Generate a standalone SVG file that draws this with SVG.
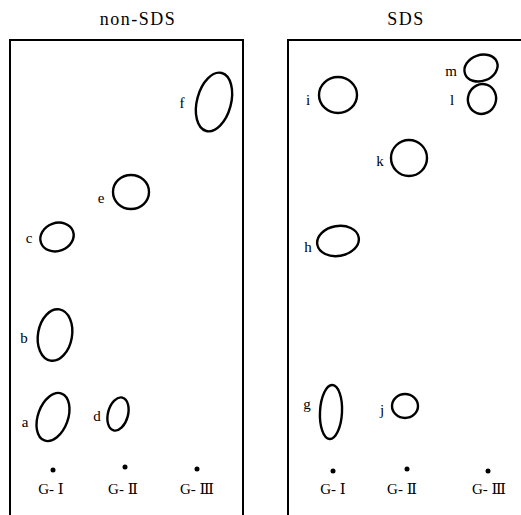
<svg xmlns="http://www.w3.org/2000/svg" width="521" height="515" viewBox="0 0 521 515">
<style>
.frame{fill:none;stroke:#000;stroke-width:2}
.spot{fill:none;stroke:#000;stroke-width:2.4}
.lbl{font-family:"Liberation Serif",serif;font-size:15px;fill:#000;text-anchor:middle}
.title{font-family:"Liberation Serif",serif;font-size:18px;fill:#000;text-anchor:middle;letter-spacing:1.5px}
.lane{font-family:"Liberation Serif","DejaVu Serif","Noto Sans CJK JP",serif;font-size:15px;fill:#000;text-anchor:middle}
.dot{fill:#000}
</style>
<rect width="521" height="515" fill="#fff"/>
<g id="panel-nonSDS">
<text class="title" x="138" y="25">non-SDS</text>
<path class="frame" d="M10,515 V40 H243 V515"/>
</g>
<g id="panel-SDS">
<text class="title" x="406" y="25">SDS</text>
<path class="frame" d="M288,515 V40 H530"/>
</g>
<g id="spot-a"><ellipse class="spot" cx="53" cy="417" rx="15" ry="25" transform="rotate(20 53 417)"/><text class="lbl" x="25" y="427">a</text></g>
<g id="spot-b"><ellipse class="spot" cx="55" cy="335" rx="17" ry="26" transform="rotate(10 55 335)"/><text class="lbl" x="24" y="343">b</text></g>
<g id="spot-c"><ellipse class="spot" cx="57" cy="237" rx="17" ry="14" transform="rotate(-20 57 237)"/><text class="lbl" x="29" y="243">c</text></g>
<g id="spot-d"><ellipse class="spot" cx="118" cy="414" rx="10" ry="17" transform="rotate(15 118 414)"/><text class="lbl" x="97" y="421">d</text></g>
<g id="spot-e"><ellipse class="spot" cx="131" cy="192" rx="18" ry="17"/><text class="lbl" x="101" y="203">e</text></g>
<g id="spot-f"><ellipse class="spot" cx="214" cy="102" rx="17" ry="30" transform="rotate(15 214 102)"/><text class="lbl" x="182" y="108">f</text></g>
<g id="spot-g"><ellipse class="spot" cx="331" cy="412" rx="11" ry="27" transform="rotate(3 331 412)"/><text class="lbl" x="307" y="409">g</text></g>
<g id="spot-h"><ellipse class="spot" cx="338" cy="241" rx="21" ry="15" transform="rotate(-10 338 241)"/><text class="lbl" x="308" y="252">h</text></g>
<g id="spot-i"><ellipse class="spot" cx="338" cy="95" rx="19" ry="18"/><text class="lbl" x="308" y="105">i</text></g>
<g id="spot-j"><ellipse class="spot" cx="405" cy="406" rx="13" ry="12"/><text class="lbl" x="382" y="415">j</text></g>
<g id="spot-k"><ellipse class="spot" cx="409" cy="158" rx="18" ry="18"/><text class="lbl" x="380" y="166">k</text></g>
<g id="spot-l"><ellipse class="spot" cx="482" cy="99" rx="14" ry="15" transform="rotate(20 482 99)"/><text class="lbl" x="452" y="105">l</text></g>
<g id="spot-m"><ellipse class="spot" cx="481" cy="68" rx="17" ry="13" transform="rotate(-20 481 68)"/><text class="lbl" x="451" y="76">m</text></g>
<g id="origins">
<circle class="dot" cx="53" cy="470" r="2.5"/><text class="lane" x="51" y="494">G- Ⅰ</text>
<circle class="dot" cx="125" cy="467" r="2.5"/><text class="lane" x="123" y="494">G- Ⅱ</text>
<circle class="dot" cx="197" cy="469" r="2.5"/><text class="lane" x="197" y="494">G- Ⅲ</text>
<circle class="dot" cx="333" cy="471" r="2.5"/><text class="lane" x="333" y="494">G- Ⅰ</text>
<circle class="dot" cx="407" cy="469" r="2.5"/><text class="lane" x="402" y="494">G- Ⅱ</text>
<circle class="dot" cx="488" cy="471" r="2.5"/><text class="lane" x="489" y="494">G- Ⅲ</text>
</g>
</svg>
